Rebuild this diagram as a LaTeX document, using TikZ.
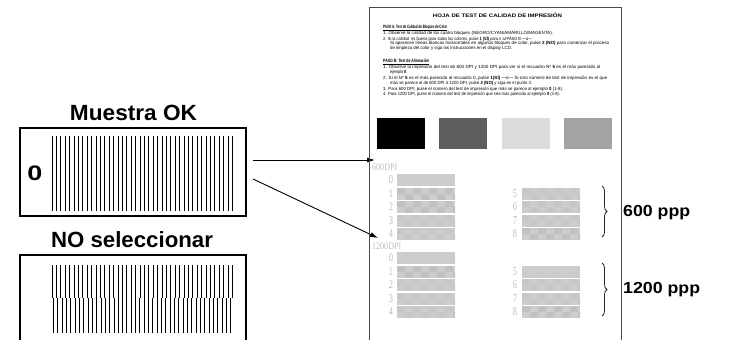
\documentclass[tikz,border=0pt]{standalone}
\usepackage{fontspec}
\setmainfont{Liberation Sans}
\newfontfamily\graynumfont{Liberation Serif}
\usetikzlibrary{arrows.meta,decorations.pathreplacing}
\definecolor{pageline}{gray}{0.3}
\definecolor{numgray}{gray}{0.74}
\definecolor{barbase}{gray}{0.80}
\definecolor{chkstrong}{gray}{0.755}
\definecolor{chkmild}{gray}{0.78}
\definecolor{blkdark}{gray}{0.37}
\definecolor{blklight}{gray}{0.86}
\definecolor{blkmid}{gray}{0.64}
\newcommand\fitw[2]{\resizebox{#1pt}{\height}{#2}}
\newcommand\tstbar[3]{%
  \begin{scope}
    \clip (#1,#2) rectangle ++(58,12);
    \fill[barbase] (#1,#2) rectangle ++(58,12);
    \foreach \k in {0,...,3}{%
      \fill[#3] ({#1+\k*16},#2) rectangle ++(8,6);
      \fill[#3] ({#1+8+\k*16},{#2+6}) rectangle ++(8,6);
    }
  \end{scope}}
\tikzset{
  txt/.style={anchor=west,inner sep=0pt,font=\fontsize{4.5}{5}\selectfont},
  big/.style={inner sep=0pt,font=\bfseries},
  numl/.style={inner sep=0pt,text=numgray,font=\graynumfont\fontsize{12}{12}\selectfont},
  dpil/.style={anchor=west,inner sep=0pt,text=numgray,font=\graynumfont\fontsize{10}{10}\selectfont},
  sample/.style={draw=black,line width=2pt,inner sep=0pt},
  arr/.style={line width=0.9pt,-{Latex[length=8pt,width=5pt]}},
  brc/.style={decorate,decoration={brace,amplitude=5pt},line width=0.8pt,draw=black!85},
  stroke/.style={line width=0.9pt,black}
}
\begin{document}
\begin{tikzpicture}[x=1pt,y=-1pt]
\useasboundingbox (0,0) rectangle (729,340);
\clip (0,0) rectangle (729,340);
% ---------- left samples ----------
\node[big] (muestra) at (133.5,113) {\fitw{127}{\fontsize{22}{26}\selectfont Muestra OK}};
\node[sample,minimum width=226pt,minimum height=88pt] (okbox) at (133,172) {};
\node[big] (zero) at (35,173) {\fitw{15}{\fontsize{21}{24}\selectfont 0}};
\foreach \i in {0,...,41}{\draw[stroke] ({52+\i*4.4},136) -- ++(0,75);}
\node[big] (nosel) at (132,239.5) {\fitw{162}{\fontsize{22}{26}\selectfont NO seleccionar}};
\node[sample,minimum width=226pt,minimum height=95pt] (nobox) at (133,302.5) {};
\foreach \i in {0,...,41}{\draw[stroke] ({52+\i*4.4},265) -- ++(0,33);}
\foreach \i in {0,...,41}{\draw[stroke] ({53.5+\i*4.32},298) -- ++(0,35);}
% ---------- arrows ----------
\coordinate (a1s) at (253,160);
\coordinate (a1e) at (375,160);
\coordinate (a2s) at (253,179);
\coordinate (a2e) at (378,238);
\draw[arr] (a1s) -- (a1e);
\draw[arr] (a2s) -- (a2e);
% ---------- page ----------
\draw[pageline,line width=0.9pt] (369,345) -- (369,7) -- (621,7) -- (621,345);
\node[inner sep=0pt,font=\bfseries\fontsize{5}{5}\selectfont] (title) at (497.5,15.5) {\fitw{129}{HOJA DE TEST DE CALIDAD DE IMPRESIÓN}};
\node[txt,font=\bfseries\fontsize{4.7}{5}\selectfont] (pa) at (383,28) {\fitw{64}{\underline{PASO A: Test de Calidad de Bloques de Color}}};
\node[txt] (pa1) at (383,33) {\fitw{170}{1. Observe la calidad de los cuatro bloques (NEGRO/CYAN/AMARILLO/MAGENTA).}};
\node[txt] (pa2) at (383,38.5) {\fitw{149}{2. Si la calidad\ \ es buena para todos los colores, pulse \textbf{1 (SÍ)} para ir al PASO B ---o---}};
\node[txt] (pa3) at (390,43.5) {\fitw{219}{Si aparecen líneas blancas horizontales en algunos bloques de color, pulse \textbf{2 (NO)} para comenzar el proceso}};
\node[txt] (pa4) at (390,48.5) {\fitw{122}{de limpieza del color y siga las instrucciones en el display LCD.}};
\node[txt,font=\bfseries\fontsize{4.7}{5}\selectfont] (pb) at (383,62) {\fitw{46}{\underline{PASO B: Test de Alineación}}};
\node[txt] (pb1) at (383,67.5) {\fitw{217}{1. Observe la impresión del test de 600 DPI y 1200 DPI para ver si el recuadro Nº \textbf{5} es el más parecido al}};
\node[txt] (pb1b) at (390,72.5) {\fitw{17}{ejemplo \textbf{0}.}};
\node[txt] (pb2) at (383,78) {\fitw{224}{2. Si el Nº \textbf{5} es el más parecido al recuadro 0, pulse \textbf{1(SÍ)} ---o--- Si otro número de test de impresión es el que}};
\node[txt] (pb2b) at (390,83) {\fitw{142}{más se parece al de 600 DPI ó 1200 DPI, pulse \textbf{2 (NO)} y siga en el punto 3.}};
\node[txt] (pb3) at (383,89) {\fitw{180}{3. Para 600 DPI, pulse el número del test de impresión que más se parece al ejemplo \textbf{0} (1-8).}};
\node[txt] (pb4) at (383,94.5) {\fitw{177}{4. Para 1200 DPI, pulse el número del test de impresión que sea más parecido al ejemplo \textbf{0} (1-8).}};
% colour blocks
\fill[black] (377,118) rectangle (425,149);
\fill[blkdark] (439,118) rectangle (487,149);
\fill[blklight] (502,118) rectangle (550,149);
\fill[blkmid] (564,118) rectangle (612,149);
% 600 DPI
\node[dpil] (l600) at (372,167) {\resizebox{25pt}{\height}{600DPI}};
\tstbar{397}{174}{barbase}
\tstbar{397}{187.5}{chkstrong}
\tstbar{397}{201}{chkstrong}
\tstbar{397}{214.5}{chkmild}
\tstbar{397}{228}{chkmild}
\tstbar{522}{187.5}{chkmild}
\tstbar{522}{201}{chkmild}
\tstbar{522}{214.5}{chkmild}
\tstbar{522}{228}{chkstrong}
\foreach \n in {0,...,4}{\node[numl] (s\n) at (391,{180+\n*13.5}) {\scalebox{0.7}[1]{\n}};}
\foreach \n in {5,...,8}{\node[numl] (s\n) at (515,{180+(\n-4)*13.5}) {\scalebox{0.7}[1]{\n}};}
% 1200 DPI
\node[dpil] (l1200) at (372,246) {\resizebox{29pt}{\height}{1200DPI}};
\tstbar{397}{252}{barbase}
\tstbar{397}{265.5}{chkstrong}
\tstbar{397}{279}{chkmild}
\tstbar{397}{292.5}{chkmild}
\tstbar{397}{306}{chkmild}
\tstbar{522}{265.5}{barbase}
\tstbar{522}{279}{chkmild}
\tstbar{522}{292.5}{chkmild}
\tstbar{522}{306}{chkstrong}
\foreach \n in {0,...,4}{\node[numl] (t\n) at (391,{258+\n*13.5}) {\scalebox{0.7}[1]{\n}};}
\foreach \n in {5,...,8}{\node[numl] (t\n) at (515,{258+(\n-4)*13.5}) {\scalebox{0.7}[1]{\n}};}
% braces and labels
\coordinate (b1t) at (602,186);
\coordinate (b1b) at (602,237);
\coordinate (b2t) at (602,263);
\coordinate (b2b) at (602,316);
\draw[brc] (b1t) -- (b1b);
\draw[brc] (b2t) -- (b2b);
\node[big,anchor=west] (p600) at (623,212.5) {\fitw{67}{\fontsize{16}{18}\selectfont 600 ppp}};
\node[big,anchor=west] (p1200) at (623,290) {\fitw{77}{\fontsize{16}{18}\selectfont 1200 ppp}};
\end{tikzpicture}
\end{document}
